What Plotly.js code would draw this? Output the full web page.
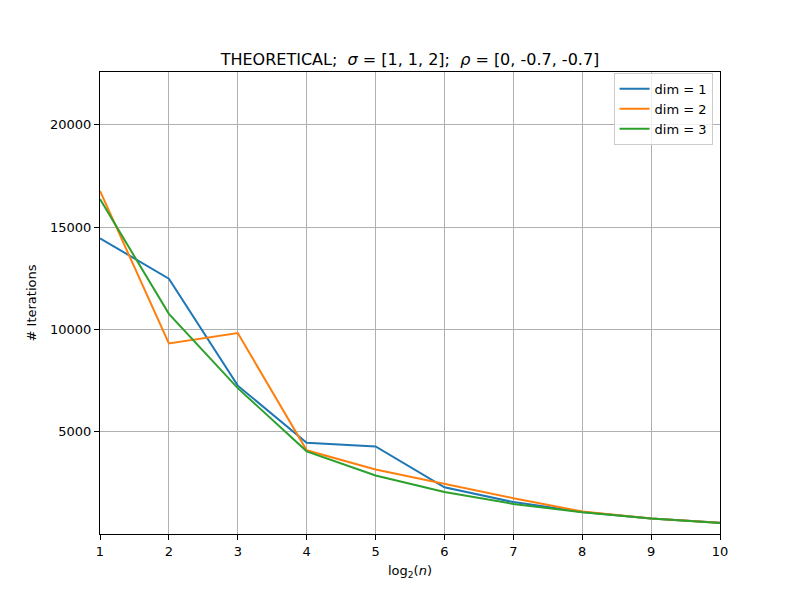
<!DOCTYPE html>
<html>
<head>
<meta charset="utf-8">
<script src="https://cdn.plot.ly/plotly-3.0.1.min.js"></script>
<style>html,body{margin:0;padding:0;background:#fff;}#chart{width:800px;height:600px;}</style>
</head>
<body>
<div id="chart"></div>
<script>
const log2n = [1, 2, 3, 4, 5, 6, 7, 8, 9, 10];
const dim1 = [14450, 12480, 7250, 4460, 4280, 2280, 1560, 1080, 760, 545];
const dim2 = [16770, 9310, 9820, 4090, 3150, 2450, 1750, 1100, 760, 545];
const dim3 = [16370, 10760, 7130, 4040, 2860, 2050, 1470, 1060, 755, 540];
const seriesNames = ['dim = 1', 'dim = 2', 'dim = 3'];
const yTicks = [5000, 10000, 15000, 20000];
const xTicks = [1, 2, 3, 4, 5, 6, 7, 8, 9, 10];

const colors = ['#1f77b4', '#ff7f0e', '#2ca02c'];
const traces = [dim1, dim2, dim3].map((ys, i) => ({
  x: log2n, y: ys, type: 'scatter', mode: 'lines', name: seriesNames[i],
  line: {color: colors[i], width: 2}
}));

const font = {family: 'DejaVu Sans, sans-serif', size: 13, color: '#000'};
const layout = {
  width: 800, height: 600,
  margin: {l: 100, r: 80, t: 72, b: 66},
  paper_bgcolor: '#fff', plot_bgcolor: '#fff',
  font: font,
  showlegend: true,
  title: {text: 'THEORETICAL;  <i>σ</i> = [1, 1, 2];  <i>ρ</i> = [0, -0.7, -0.7]',
          font: {family: 'DejaVu Sans, sans-serif', size: 16, color: '#000'},
          x: 0.5, xref: 'paper', xanchor: 'center', y: 1, yref: 'paper', yanchor: 'bottom', pad: {b: 7}},
  xaxis: {
    range: [1, 10], tickvals: xTicks, ticktext: xTicks.map(String),
    showgrid: true, gridcolor: '#b0b0b0', gridwidth: 1,
    showline: true, linecolor: '#000', linewidth: 1, mirror: true,
    ticks: 'outside', ticklen: 5, tickcolor: '#000', zeroline: false,
    tickfont: font,
    title: {text: 'log<sub>2</sub>(<i>n</i>)', font: font, standoff: 8}
  },
  yaxis: {
    range: [0, 22580], tickvals: yTicks, tickformat: 'd',
    showgrid: true, gridcolor: '#b0b0b0', gridwidth: 1,
    showline: true, linecolor: '#000', linewidth: 1, mirror: true,
    ticks: 'outside', ticklen: 5, tickcolor: '#000', zeroline: false,
    tickfont: font,
    title: {text: '# Iterations', font: font, standoff: 10}
  },
  legend: {
    x: 0.988, y: 0.998, xanchor: 'right', yanchor: 'top',
    bgcolor: 'rgba(255,255,255,0.8)', bordercolor: '#cccccc', borderwidth: 1,
    font: font, tracegroupgap: 0
  }
};
Plotly.newPlot('chart', traces, layout, {displayModeBar: false, staticPlot: true});
</script>
</body>
</html>
